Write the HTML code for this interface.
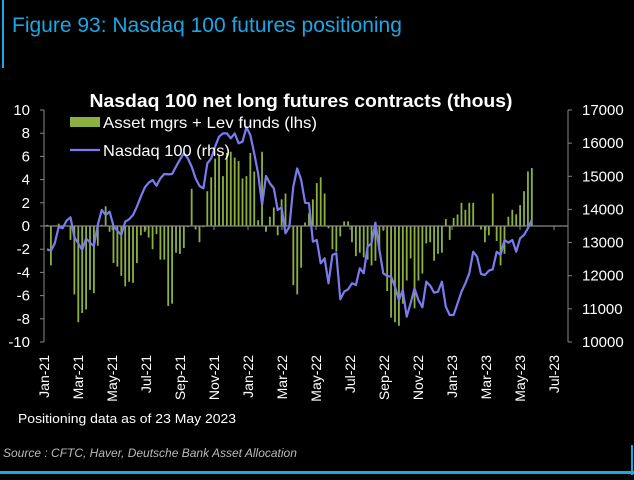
<!DOCTYPE html>
<html><head><meta charset="utf-8"><style>
body{margin:0;background:#000;width:634px;height:475px;overflow:hidden;font-family:"Liberation Sans",sans-serif}
</style></head><body>
<svg width="634" height="475" xmlns="http://www.w3.org/2000/svg">
<rect x="2" y="0" width="2" height="68" fill="#1aa7e6"/>
<text x="12" y="32" font-size="21" fill="#1aa7e6">Figure 93: Nasdaq 100 futures positioning</text>
<text x="301" y="107" font-size="18.5" font-weight="bold" fill="#fff" text-anchor="middle" textLength="423" lengthAdjust="spacingAndGlyphs">Nasdaq 100 net long futures contracts  (thous)</text>
<g id="plot"></g>
<g>
<rect x="70" y="117" width="30" height="10" fill="#8db040"/>
<text x="103" y="128" font-size="16" fill="#fff" textLength="214" lengthAdjust="spacingAndGlyphs">Asset mgrs + Lev funds (lhs)</text>
<line x1="70" y1="150" x2="100" y2="150" stroke="#7b7bf0" stroke-width="2.2"/>
<text x="103" y="156" font-size="16" fill="#fff" textLength="127" lengthAdjust="spacingAndGlyphs">Nasdaq 100 (rhs)</text>
</g>
<text x="18" y="423" font-size="12.5" fill="#fff" textLength="218" lengthAdjust="spacingAndGlyphs">Positioning data as of 23 May 2023</text>
<text x="3" y="457" font-size="12" font-style="italic" fill="#bbb">Source : CFTC, Haver, Deutsche Bank Asset Allocation</text>
<rect x="0" y="471" width="634" height="3" fill="#1aa7e6"/>
<rect x="631" y="445" width="2" height="30" fill="#1aa7e6"/>
</svg>
<script>
const bars=[0.1,-3.4,0,0.2,-0.1,0,-1.2,-5.9,-8.3,-7.5,-7.2,-5.5,-5.8,-1.7,0.1,1.7,-0.5,-3.2,-3.5,-4.3,-5.2,-4.8,-4.9,-3.2,-0.8,-0.5,-1.0,-2.0,-0.7,-2.9,-2.9,-6.9,-6.7,-2.3,-2.4,-1.9,-0.1,3.2,-0.3,-1.4,-0.1,3.0,4.2,5.8,6.1,4.3,6.3,6.4,5.9,5.6,4.1,4.3,6.3,4.7,0.5,6.4,-0.5,0.8,1.6,-0.8,2.3,2.8,0,-5.1,-5.9,-3.6,0.3,1.1,2.3,3.7,4.2,2.8,-0.2,-2.0,-2.2,-0.9,0.4,0.4,-1.4,-2.6,-2.3,-2.7,-2.9,-3.4,-3.0,-2.2,-0.4,-5.6,-7.9,-8.3,-8.6,-6.7,-4.7,-2.8,-7.1,-4.7,-4.1,-1.5,-1.4,-3.0,-2.4,-2.3,0.6,-1.2,0.7,1.0,2.0,1.4,2.0,2.0,0,-0.3,-1.4,-0.8,2.8,-1.3,-3.4,-2.4,0.8,1.4,1.0,1.8,3.0,4.7,5.0];
const ndx=[12797,12755,12977,13480,13430,13660,13762,13158,12977,12776,13128,12997,12896,13530,13982,13831,13932,13500,13358,13228,13630,13702,13831,14082,14384,14666,14806,14887,14716,14937,15068,15058,15068,15289,15500,15693,15542,15289,14937,14707,14636,15390,15542,15893,16195,16295,16295,16145,16295,15994,16043,16477,16245,15693,15089,14133,15008,14787,14636,13982,14062,13279,13480,14686,15239,14900,14200,14184,13027,13077,12374,12525,11771,12625,12676,11288,11519,11590,11771,11720,12223,12072,12876,12977,13600,12776,12072,11991,11971,11669,11267,11569,10764,11167,11619,11267,11046,11821,11700,11489,11519,11821,11066,10815,10815,11167,11519,11771,12072,12726,12575,12052,12022,12152,12193,12726,12625,13077,12997,13077,12726,13128,13228,13430,13681];
const leftTicks=[10,8,6,4,2,0,-2,-4,-6,-8,-10];
const rightTicks=[17000,16000,15000,14000,13000,12000,11000,10000];
const monthLabels=["Jan-21","Mar-21","May-21","Jul-21","Sep-21","Nov-21","Jan-22","Mar-22","May-22","Jul-22","Sep-22","Nov-22","Jan-23","Mar-23","May-23","Jul-23"];
const NS="http://www.w3.org/2000/svg";
const g=document.getElementById('plot');
const X0=44,X1=568,YT=110,YB=342;
const yL=v=>YB-(v+10)/20*(YB-YT);
const yR=v=>YB-(v-10000)/7000*(YB-YT);
const xW=i=>47+i*3.91;
const xM=m=>X0+m*17;
function el(t,a){const e=document.createElementNS(NS,t);for(const k in a)e.setAttribute(k,a[k]);g.appendChild(e);return e;}
let ax=el('line',{x1:X0,y1:YT,x2:X0,y2:YB,stroke:'#888','stroke-width':1});


ax=el('line',{x1:X1,y1:YT,x2:X1,y2:YB,stroke:'#888','stroke-width':1});


leftTicks.forEach(v=>{
 const t=el('line',{x1:X0-4,x2:X0,y1:yL(v),y2:yL(v),stroke:'#888'});
 
 
 const l=el('text',{x:30,y:yL(v)+5,'font-size':15,fill:'#fff','text-anchor':'end'});
 l.textContent=v;
 
 
});
rightTicks.forEach(v=>{
 const t=el('line',{x1:X1,x2:X1+4,y1:yR(v),y2:yR(v),stroke:'#888'});
 
 
 const l=el('text',{x:582,y:yR(v)+5,'font-size':15,fill:'#fff'});
 l.textContent=v;
 
 
});
bars.forEach((v,i)=>{
 const y0=yL(0),y=yL(v);
 const r=el('rect',{x:xW(i)-0.9,y:Math.min(y,y0),width:1.8,height:Math.abs(y-y0),fill:'#8db040'});
 
 
});
const z=el('line',{x1:X0,x2:X1,y1:yL(0),y2:yL(0),stroke:'#888','stroke-width':1.2});


monthLabels.forEach((m,k)=>{
 const x=xM(k*2);
 const t=el('line',{x1:x,x2:x,y1:yL(0),y2:yL(0)+4,stroke:'#888'});
 
 
 const l=el('text',{x:0,y:0,'font-size':14,fill:'#fff','text-anchor':'end',transform:`translate(${x+5},355) rotate(-90)`});
 l.textContent=m;
 
 
});
const p=el('polyline',{points:ndx.map((v,i)=>xW(i).toFixed(1)+','+yR(v).toFixed(1)).join(' '),fill:'none',stroke:'#7b7bf0','stroke-width':2.2,'stroke-linejoin':'round'});


</script>
</body></html>
